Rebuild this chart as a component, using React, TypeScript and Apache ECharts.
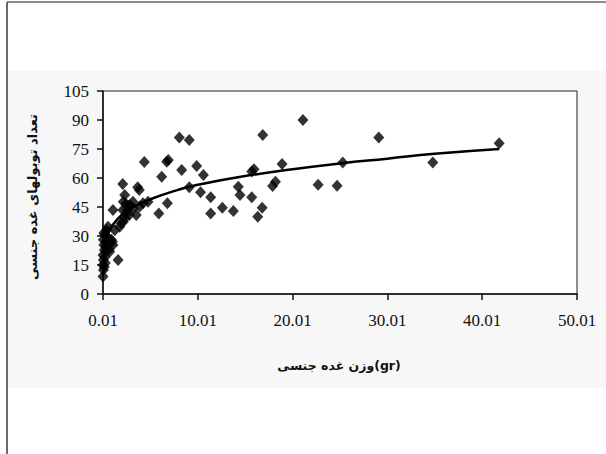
import React, { useEffect, useRef } from "react";
import * as echarts from "echarts";

// Scatter points: gonad weight (gr) vs number of gonad tubules
const weightX = [
  0.01, 0.05, 0.01, 0.05, 0.01, 0.15, 0.1, 0.05, 0.2, 0.36, 0.54, 0.72, 0.88, 1.06, 1.6, 1.25, 0.3, 0.6, 0.45, 1.0, 0.2, 0.1, 0.3, 0.15, 0.25,
  1.06, 1.77, 1.94, 2.15, 2.33, 2.47, 2.78, 2.1, 2.3, 2.09, 2.15, 2.44, 2.83, 3.17, 3.2, 3.52, 3.88, 4.23, 4.76, 3.67, 3.84, 4.37, 2.6,
  5.9, 6.2, 6.73, 6.9, 6.8, 8.06, 9.11, 8.31, 9.11, 9.89, 10.6, 10.3, 11.37, 11.37, 12.6, 13.76, 14.28, 14.46, 15.7, 15.7, 15.94, 16.86,
  16.8, 16.33, 18.9, 17.9, 18.2, 21.1, 22.7, 24.7, 25.3, 29.1, 34.8, 41.8,
];
const tubuleY = [
  9, 12.4, 15, 17.6, 20.2, 22.8, 25.3, 28, 30.5, 33, 34.8, 21.9, 28, 25.3, 17.6, 33, 24.5, 23, 29.6, 27.2, 19, 31.5, 26.5, 14, 16,
  43.5, 34.8, 36.6, 37.4, 39.2, 41.7, 40.9, 43.5, 51.2, 56.9, 47.7, 46.5, 46, 47.7, 44.3, 40.9, 45.2, 46.9, 47.7, 55.2, 53.8, 68.3, 43.5,
  41.7, 60.7, 68.4, 69.3, 46.9, 81, 79.7, 64.1, 55.2, 66.2, 61.6, 52.6, 50, 41.7, 44.6, 42.9, 55.5, 51.2, 50, 63.3, 64.5, 82.3,
  44.6, 40, 67.3, 55.9, 58.1, 90, 56.5, 56, 68, 81, 68, 78,
];

// Trend line
const trendX = [0.3, 0.6, 1, 2, 3, 5, 8, 10, 15, 20, 25, 30, 35, 41.8];
const trendY = [28, 32, 35.5, 41, 44.5, 49, 54, 56.5, 61, 64.5, 67.5, 70, 72.5, 75];

const yTitle = "تعداد توبولهای غده جنسی";
const xTitle = "وزن غده جنسی(gr)";

export default function App() {
  const ref = useRef<HTMLDivElement>(null);
  useEffect(() => {
    if (!ref.current) return;
    const chart = echarts.init(ref.current, null, { renderer: "svg" });
    const serif = "'Liberation Serif', 'Times New Roman', serif";
    chart.setOption({
      animation: false,
      backgroundColor: "#ffffff",
      graphic: [
        { type: "rect", z: -10, shape: { x: 8, y: 71, width: 598, height: 317 }, style: { fill: "#f7f7f7" } },
        { type: "line", shape: { x1: 7, y1: 2, x2: 606, y2: 2 }, style: { stroke: "#8a8a8a", lineWidth: 2 } },
        { type: "line", shape: { x1: 7, y1: 2, x2: 7, y2: 454 }, style: { stroke: "#6a6a6a", lineWidth: 2 } },
        {
          type: "text",
          x: 32,
          y: 197,
          rotation: Math.PI / 2,
          style: {
            text: yTitle,
            fill: "#111",
            font: "bold 13px 'DejaVu Sans'",
            align: "center",
            verticalAlign: "middle",
          },
        },
        {
          type: "text",
          x: 339,
          y: 365,
          style: {
            text: xTitle,
            fill: "#111",
            font: "bold 12.5px 'DejaVu Sans'",
            align: "center",
            verticalAlign: "middle",
          },
        },
      ],
      grid: {
        left: 103,
        top: 91,
        right: 29,
        bottom: 160,
        show: true,
        borderColor: "#222",
        borderWidth: 1,
        backgroundColor: "#ffffff",
      },
      xAxis: {
        type: "value",
        min: 0.01,
        max: 50.01,
        interval: 10,
        splitLine: { show: false },
        axisLine: { show: true, lineStyle: { color: "#111", width: 1.5 } },
        axisTick: { show: true, length: 6, lineStyle: { color: "#111", width: 1.5 } },
        axisLabel: {
          margin: 18,
          color: "#111",
          fontFamily: serif,
          fontSize: 17,
          formatter: (v: number) => v.toFixed(2),
        },
      },
      yAxis: {
        type: "value",
        min: 0,
        max: 105,
        interval: 15,
        splitLine: { show: false },
        axisLine: { show: true, lineStyle: { color: "#111", width: 1.5 } },
        axisTick: { show: true, length: 6, lineStyle: { color: "#111", width: 1.5 } },
        axisLabel: { margin: 14, color: "#111", fontFamily: serif, fontSize: 17 },
      },
      series: [
        {
          type: "scatter",
          symbol: "diamond",
          symbolSize: [11, 12],
          itemStyle: { color: "#000" },
          data: weightX.map((x, i) => [x, tubuleY[i]]),
          z: 3,
        },
        {
          type: "line",
          smooth: true,
          showSymbol: false,
          symbol: "none",
          lineStyle: { color: "#000", width: 2.5 },
          data: trendX.map((x, i) => [x, trendY[i]]),
          z: 4,
        },
      ],
    });
    return () => chart.dispose();
  }, []);
  return (
    <div
      ref={ref}
      style={{ position: "fixed", left: 0, top: 0, width: 606, height: 454, background: "#fff" }}
    />
  );
}
